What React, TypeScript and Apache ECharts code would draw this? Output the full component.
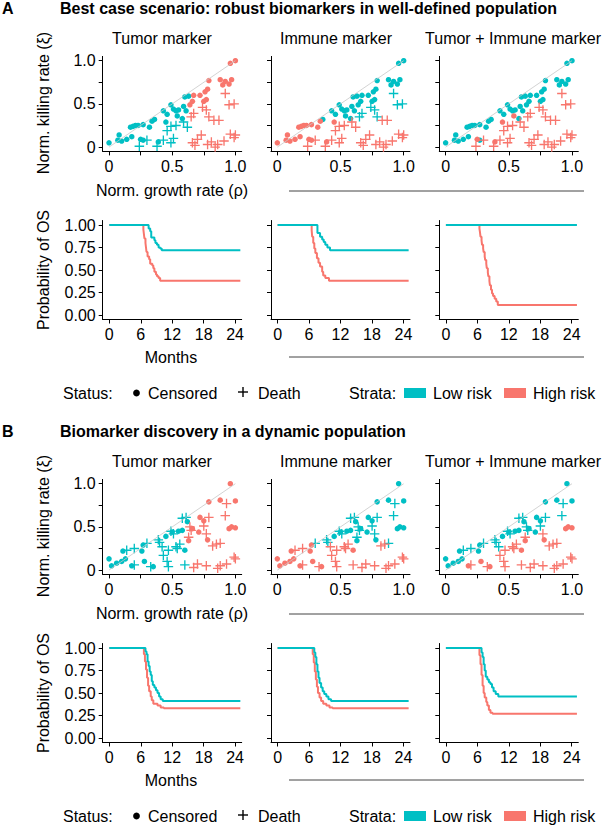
import React, { useEffect, useRef } from "react";
import * as echarts from "echarts";

const TEAL = "#00BFC4";
const SALMON = "#F8766D";
const FONT = "'Liberation Sans', Arial, Helvetica, sans-serif";

// [growth rate x, killing rate y, death(1)/censored(0), high-risk in Tumor, Immune, Tumor+Immune]
const pointsA: number[][] = [
  [0.00,0.05,0,0,1,0],[0.07,0.08,0,0,1,0],[0.08,0.14,0,0,1,0],[0.10,0.07,0,0,1,0],
  [0.14,0.09,0,0,1,0],[0.18,0.12,0,0,1,0],[0.17,0.23,0,0,1,0],[0.19,0.24,0,0,1,0],
  [0.21,0.25,0,0,1,0],[0.23,0.25,0,0,1,0],[0.27,0.26,0,0,1,0],[0.32,0.23,0,0,1,0],
  [0.34,0.30,0,0,1,0],[0.36,0.32,0,0,0,0],[0.25,0.09,0,0,1,1],[0.27,0.08,0,0,1,0],
  [0.39,0.06,0,0,1,1],[0.43,0.42,0,0,0,0],[0.46,0.38,0,0,0,0],[0.49,0.49,0,0,0,0],
  [0.51,0.44,0,0,0,0],[0.53,0.42,0,0,0,0],[0.55,0.43,0,0,0,0],[0.59,0.47,0,0,0,0],
  [0.61,0.42,0,0,0,0],[0.60,0.58,0,0,0,0],[0.63,0.59,0,0,0,0],[0.45,0.29,0,0,1,1],
  [0.54,0.36,0,0,0,1],[0.58,0.33,0,0,0,0],[0.64,0.49,0,1,0,0],[0.66,0.53,0,1,0,0],
  [0.67,0.60,0,1,0,0],[0.72,0.60,0,1,0,0],[0.76,0.64,0,1,0,0],[0.78,0.67,0,1,0,0],
  [0.79,0.77,0,1,0,0],[0.75,0.53,0,1,0,0],[0.77,0.55,0,1,0,0],[0.88,0.78,0,1,0,0],
  [0.90,0.72,0,1,0,0],[0.92,0.76,0,1,0,0],[0.95,0.73,0,1,0,0],[0.97,0.78,0,1,0,0],
  [0.96,0.97,0,1,0,0],[1.00,1.00,0,1,0,0],
  [0.24,0.01,1,0,1,1],[0.30,0.08,1,0,1,1],[0.38,0.01,1,0,1,1],[0.43,0.08,1,0,1,1],
  [0.49,0.05,1,0,1,1],[0.51,0.10,1,0,1,1],[0.46,0.19,1,0,1,1],[0.49,0.24,1,0,1,1],
  [0.53,0.25,1,0,1,1],[0.59,0.29,1,0,1,1],[0.62,0.23,1,0,1,1],[0.65,0.35,1,1,0,1],
  [0.67,0.39,1,1,0,1],[0.74,0.46,1,1,0,1],[0.77,0.43,1,1,0,1],[0.79,0.35,1,1,0,1],
  [0.66,0.05,1,1,1,1],[0.68,0.02,1,1,1,1],[0.70,0.09,1,1,1,1],[0.73,0.14,1,1,1,1],
  [0.78,0.03,1,1,1,1],[0.81,0.06,1,1,1,1],[0.84,0.00,1,1,1,1],[0.86,0.03,1,1,1,1],
  [0.83,0.31,1,1,1,1],[0.87,0.31,1,1,1,1],[0.92,0.62,1,1,0,1],[0.95,0.49,1,1,0,1],
  [0.99,0.50,1,1,0,1],[0.96,0.15,1,1,1,1],[0.99,0.11,1,1,1,1],[1.00,0.14,1,1,1,1],
  [0.91,0.07,1,1,1,1],
];

const pointsB: number[][] = [
  [0.00,0.13,0,0,1,0],[0.02,0.05,0,0,1,0],[0.06,0.08,0,0,1,0],[0.10,0.10,0,0,1,0],
  [0.13,0.13,0,0,1,0],[0.11,0.22,0,0,1,0],[0.26,0.22,0,0,1,0],[0.27,0.29,0,0,1,0],
  [0.28,0.10,0,0,1,1],[0.18,0.05,0,0,1,1],[0.35,0.04,0,0,1,1],[0.45,0.39,0,0,0,0],
  [0.50,0.44,0,0,0,0],[0.55,0.45,0,0,0,0],[0.58,0.46,0,0,0,0],[0.62,0.56,0,0,0,0],
  [0.60,0.23,0,0,1,1],[0.63,0.34,0,1,0,1],[0.66,0.48,0,1,0,0],[0.72,0.61,0,1,0,0],
  [0.75,0.57,0,1,0,0],[0.71,0.44,0,1,0,0],[0.78,0.35,0,1,0,1],[0.79,0.79,0,1,0,0],
  [0.88,0.81,0,1,0,0],[1.00,0.80,0,1,0,0],[0.96,1.00,0,1,0,0],[0.95,0.48,0,1,0,1],
  [0.97,0.50,0,1,0,1],[1.00,0.49,0,1,0,1],
  [0.14,0.23,1,0,1,0],[0.20,0.25,1,0,1,0],[0.20,0.06,1,0,1,1],[0.30,0.31,1,0,0,0],
  [0.39,0.35,1,0,0,0],[0.40,0.32,1,0,0,0],[0.42,0.27,1,0,1,0],[0.43,0.17,1,0,1,1],
  [0.47,0.23,1,0,1,1],[0.46,0.10,1,0,1,1],[0.47,0.04,1,0,1,1],[0.49,0.45,1,0,0,0],
  [0.51,0.42,1,0,0,0],[0.53,0.27,1,0,1,1],[0.56,0.30,1,0,1,1],[0.58,0.60,1,0,0,0],
  [0.61,0.61,1,0,0,0],[0.64,0.50,1,1,0,0],[0.65,0.46,1,1,0,0],[0.63,0.38,1,1,0,1],
  [0.75,0.51,1,1,0,0],[0.79,0.61,1,1,0,0],[0.77,0.42,1,1,0,1],[0.82,0.28,1,1,1,1],
  [0.85,0.30,1,1,1,1],[0.88,0.31,1,1,0,1],[0.92,0.63,1,1,0,0],[0.93,0.77,1,1,0,0],
  [0.99,0.15,1,1,1,1],[1.00,0.13,1,1,1,1],[0.54,0.25,1,0,1,1],[0.60,0.06,1,0,1,1],
  [0.67,0.03,1,1,1,1],[0.70,0.07,1,1,1,1],[0.77,0.05,1,1,1,1],[0.86,0.02,1,1,1,1],
  [0.88,0.05,1,1,1,1],[0.93,0.07,1,1,1,1],[0.33,0.04,1,0,1,1],
];

// Kaplan-Meier curves: [month, survival]
const kmA1Low = [[0,1],[7.5,0.96],[7.8,0.93],[8.0,0.86],[8.6,0.83],[8.8,0.80],[9.1,0.78],[9.4,0.75],[9.7,0.74],[10.0,0.72],[25,0.72]];
const kmA1High = [[0,1],[6.5,0.95],[6.6,0.90],[6.7,0.85],[6.9,0.80],[7.0,0.75],[7.1,0.70],[7.3,0.65],[7.6,0.62],[7.8,0.57],[8.2,0.55],[8.4,0.52],[8.6,0.48],[8.9,0.45],[9.1,0.43],[9.4,0.41],[9.7,0.38],[25,0.38]];
const kmA2Low = [[0,1],[7.6,0.91],[8.1,0.87],[8.5,0.84],[8.8,0.81],[9.1,0.78],[9.5,0.75],[10.0,0.72],[25,0.72]];
const kmA2High = [[0,1],[6.5,0.94],[6.6,0.87],[6.8,0.80],[7.0,0.74],[7.2,0.69],[7.5,0.63],[7.8,0.58],[8.1,0.54],[8.5,0.48],[8.7,0.44],[9.1,0.41],[9.8,0.38],[25,0.38]];
const kmA3Low = [[0,1],[25,1]];
const kmA3High = [[0,1],[6.4,0.96],[6.5,0.92],[6.6,0.87],[6.8,0.83],[6.9,0.78],[7.1,0.74],[7.2,0.70],[7.4,0.65],[7.5,0.61],[7.7,0.57],[7.8,0.52],[8.0,0.47],[8.1,0.43],[8.3,0.38],[8.4,0.33],[8.6,0.28],[8.8,0.24],[9.0,0.21],[9.3,0.18],[9.6,0.15],[9.9,0.11],[25,0.11]];
const kmB1Low = [[0,1],[6.9,0.96],[7.1,0.93],[7.3,0.85],[7.5,0.80],[7.7,0.74],[7.9,0.70],[8.1,0.63],[8.3,0.59],[8.6,0.56],[8.9,0.53],[9.2,0.50],[9.5,0.46],[9.8,0.43],[10.2,0.41],[25,0.41]];
const kmB1High = [[0,1],[6.6,0.93],[6.8,0.85],[7.0,0.76],[7.2,0.67],[7.4,0.58],[7.6,0.52],[7.9,0.46],[8.1,0.42],[8.4,0.38],[9.2,0.36],[9.8,0.34],[10.4,0.33],[25,0.33]];
const kmB2Low = [[0,1],[7.0,0.95],[7.2,0.90],[7.4,0.82],[7.6,0.74],[7.8,0.67],[8.0,0.61],[8.3,0.56],[8.6,0.52],[8.9,0.49],[9.3,0.46],[9.7,0.43],[10.2,0.41],[25,0.41]];
const kmB2High = [[0,1],[6.7,0.93],[6.9,0.84],[7.1,0.74],[7.3,0.65],[7.5,0.57],[7.7,0.50],[8.0,0.45],[8.3,0.41],[8.7,0.38],[9.3,0.36],[9.9,0.34],[10.5,0.33],[25,0.33]];
const kmB3Low = [[0,1],[6.8,0.95],[7.0,0.90],[7.2,0.82],[7.4,0.75],[7.6,0.68],[7.9,0.65],[8.2,0.62],[8.5,0.60],[8.8,0.56],[9.1,0.52],[9.5,0.49],[10.0,0.46],[25,0.46]];
const kmB3High = [[0,1],[6.4,0.92],[6.6,0.82],[6.8,0.70],[7.0,0.58],[7.2,0.50],[7.4,0.45],[7.7,0.40],[7.9,0.36],[8.2,0.31],[8.5,0.28],[8.9,0.27],[25,0.27]];

const blockTitles = [
  "Best case scenario: robust biomarkers in well-defined population",
  "Biomarker discovery in a dynamic population",
];
const blockLetters = ["A", "B"];
const panelTitles = ["Tumor marker", "Immune marker", "Tumor + Immune marker"];
const scatterTicks = [0, 0.25, 0.5, 0.75, 1];
const scatterLabels = [0, 0.5, 1];
const kmXTicks = [0, 6, 12, 18, 24];
const kmYTicks = [0, 0.25, 0.5, 0.75, 1];

// layout
const PANEL_LEFT = [102.7, 271, 439.3];
const PANEL_W = 139;
const BLOCK_OFF = [0, 423];
const SC_TOP = 56.4, SC_H = 95;
const KM_TOP = 220.5, KM_H = 99;
const TITLE_X = [162, 336, 513];

const PLUS = "path://M0,4.3H10V5.7H0ZM4.3,0H5.7V10H4.3Z";

function makeAxis(dim: string, gridIndex: number, min: number, max: number, ticks: number[], labels: number[], fmt: (v: number) => string, showLabels: boolean) {
  return {
    type: "value",
    gridIndex,
    min,
    max,
    axisLine: { show: true, onZero: false, lineStyle: { color: "#000", width: 1 } },
    axisTick: { show: true, length: 4, customValues: ticks, lineStyle: { color: "#000", width: 1 } },
    axisLabel: {
      show: showLabels,
      customValues: labels,
      formatter: fmt,
      margin: 7,
      color: "#000",
      fontSize: 16,
      fontFamily: FONT,
    },
    splitLine: { show: false },
  };
}

function txt(x: number, y: number, text: string, opts: any = {}) {
  const align = opts.align || "left";
  return {
    type: "text",
    x,
    y,
    rotation: opts.rotation || 0,
    style: {
      text,
      font: `${opts.bold ? "bold " : ""}16px ${FONT}`,
      fill: "#000",
      align,
      textAlign: align,
      verticalAlign: "middle",
      textVerticalAlign: "middle",
    },
  };
}

function buildOption() {
  const grid: any[] = [];
  const xAxis: any[] = [];
  const yAxis: any[] = [];
  const series: any[] = [];
  const graphic: any[] = [];
  const kms = [
    [[kmA1Low, kmA1High], [kmA2Low, kmA2High], [kmA3Low, kmA3High]],
    [[kmB1Low, kmB1High], [kmB2Low, kmB2High], [kmB3Low, kmB3High]],
  ];
  const f1 = (v: number) => (v === 0 ? "0" : v.toFixed(1));
  const f2 = (v: number) => v.toFixed(2);
  const f0 = (v: number) => String(v);
  let gi = 0;
  for (let b = 0; b < 2; b++) {
    const off = BLOCK_OFF[b];
    const pts = b === 0 ? pointsA : pointsB;
    for (let p = 0; p < 3; p++) {
      // scatter panel
      grid.push({ left: PANEL_LEFT[p], top: SC_TOP + off, width: PANEL_W, height: SC_H });
      xAxis.push(makeAxis("x", gi, -0.05, 1.05, scatterTicks, scatterLabels, f1, true));
      yAxis.push(makeAxis("y", gi, -0.05, 1.05, scatterTicks, scatterLabels, f1, p === 0));
      series.push({
        type: "line", xAxisIndex: gi, yAxisIndex: gi, data: [[0, 0], [1, 1]],
        symbol: "none", silent: true, lineStyle: { color: "#c8c8c8", width: 0.8 },
      });
      for (const g of [0, 1]) {
        const color = g === 0 ? TEAL : SALMON;
        const sel = pts.filter((r) => r[3 + p] === g);
        series.push({
          type: "scatter", xAxisIndex: gi, yAxisIndex: gi, silent: true,
          symbol: "circle", symbolSize: 5.5,
          itemStyle: { color, opacity: 1 },
          data: sel.filter((r) => r[2] === 0).map((r) => [r[0], r[1]]),
        });
        series.push({
          type: "scatter", xAxisIndex: gi, yAxisIndex: gi, silent: true,
          symbol: PLUS, symbolSize: 9.5,
          itemStyle: { color, opacity: 1 },
          data: sel.filter((r) => r[2] === 1).map((r) => [r[0], r[1]]),
        });
      }
      gi++;
      // KM panel
      grid.push({ left: PANEL_LEFT[p], top: KM_TOP + off, width: PANEL_W, height: KM_H });
      xAxis.push(makeAxis("x", gi, -1.26, 25.26, kmXTicks, kmXTicks, f0, true));
      yAxis.push(makeAxis("y", gi, -0.05, 1.05, kmYTicks, kmYTicks, f2, p === 0));
      const [low, high] = kms[b][p];
      series.push({
        type: "line", xAxisIndex: gi, yAxisIndex: gi, step: "end", data: high,
        symbol: "none", silent: true, lineStyle: { color: SALMON, width: 2 },
      });
      series.push({
        type: "line", xAxisIndex: gi, yAxisIndex: gi, step: "end", data: low,
        symbol: "none", silent: true, lineStyle: { color: TEAL, width: 2 },
      });
      gi++;
      graphic.push(txt(TITLE_X[p], 38 + off, panelTitles[p], { align: "center" }));
    }
    graphic.push(txt(2, 8 + off, blockLetters[b], { bold: true }));
    graphic.push(txt(60, 8 + off, blockTitles[b], { bold: true }));
    graphic.push(txt(43, 103 + off, "Norm. killing rate (ξ)", { align: "center", rotation: Math.PI / 2 }));
    graphic.push(txt(43, 270 + off, "Probability of OS", { align: "center", rotation: Math.PI / 2 }));
    graphic.push(txt(172, 190 + off, "Norm. growth rate (ρ)", { align: "center" }));
    graphic.push(txt(171, 357 + off, "Months", { align: "center" }));
    graphic.push({ type: "line", shape: { x1: 289, y1: 191 + off, x2: 584, y2: 191 + off }, style: { stroke: "#444", lineWidth: 1 } });
    graphic.push({ type: "line", shape: { x1: 289, y1: 357 + off, x2: 584, y2: 357 + off }, style: { stroke: "#444", lineWidth: 1 } });
    // legend
    const ly = 393 + off;
    graphic.push(txt(63, ly, "Status:"));
    graphic.push({ type: "circle", shape: { cx: 136.5, cy: ly, r: 3.4 }, style: { fill: "#000" } });
    graphic.push(txt(148, ly, "Censored"));
    graphic.push({ type: "line", shape: { x1: 238, y1: ly - 1, x2: 248, y2: ly - 1 }, style: { stroke: "#000", lineWidth: 1.4 } });
    graphic.push({ type: "line", shape: { x1: 243, y1: ly - 6, x2: 243, y2: ly + 4 }, style: { stroke: "#000", lineWidth: 1.4 } });
    graphic.push(txt(258, ly, "Death"));
    graphic.push(txt(349, ly, "Strata:"));
    graphic.push({ type: "rect", shape: { x: 404, y: ly - 5, width: 22, height: 10 }, style: { fill: TEAL } });
    graphic.push(txt(433, ly, "Low risk"));
    graphic.push({ type: "rect", shape: { x: 504, y: ly - 5, width: 22, height: 10 }, style: { fill: SALMON } });
    graphic.push(txt(533, ly, "High risk"));
  }
  return { animation: false, backgroundColor: "#fff", grid, xAxis, yAxis, series, graphic };
}

export default function App() {
  const ref = useRef<HTMLDivElement>(null);
  useEffect(() => {
    const chart = echarts.init(ref.current!, null, { renderer: "svg" });
    chart.setOption(buildOption() as any);
    return () => chart.dispose();
  }, []);
  return (
    <div
      ref={ref}
      style={{ position: "absolute", left: 0, top: 0, width: 605, height: 826, background: "#fff" }}
    />
  );
}
